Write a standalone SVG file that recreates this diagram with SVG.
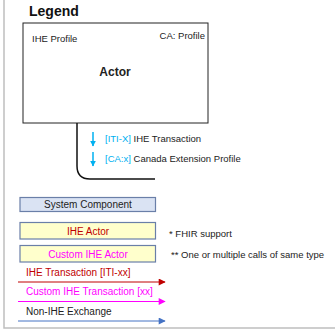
<svg xmlns="http://www.w3.org/2000/svg" width="335" height="331" viewBox="0 0 335 331">
<defs>
<style>
text{font-family:"Liberation Sans",Arial,sans-serif;}
.s{font-size:9.5px;fill:#222;}
.b{font-weight:bold;}
.box{stroke-width:1.2;}
</style>
<marker id="ar" viewBox="0 0 10 10" refX="9" refY="5" markerUnits="userSpaceOnUse" markerWidth="8" markerHeight="7" orient="auto"><path d="M0,0L10,5L0,10z" fill="#C00000"/></marker>
<marker id="am" viewBox="0 0 10 10" refX="9" refY="5" markerUnits="userSpaceOnUse" markerWidth="8" markerHeight="7" orient="auto"><path d="M0,0L10,5L0,10z" fill="#FF00FF"/></marker>
<marker id="ab" viewBox="0 0 10 10" refX="9" refY="5" markerUnits="userSpaceOnUse" markerWidth="8" markerHeight="7" orient="auto"><path d="M0,0L10,5L0,10z" fill="#4472C4"/></marker>
<marker id="ac" viewBox="0 0 10 10" refX="9" refY="5" markerUnits="userSpaceOnUse" markerWidth="6" markerHeight="6" orient="auto"><path d="M0,0L10,5L0,10z" fill="#00B0F0"/></marker>
</defs>
<rect width="335" height="331" fill="#fff"/>
<path d="M4,0V328H335" fill="none" stroke="#bfbfbf" stroke-width="1.5"/>
<text x="29" y="16" class="b" font-size="14" fill="#111">Legend</text>
<g id="actor">
<rect x="23" y="23" width="185" height="100" fill="#fff" stroke="#222" stroke-width="1"/>
<text x="32" y="42" class="s">IHE Profile</text>
<text x="205" y="39" class="s" text-anchor="end">CA: Profile</text>
<text x="115" y="76" class="b" font-size="12" fill="#222" text-anchor="middle">Actor</text>
</g>
<g id="connectors">
<path d="M77,123V166Q77,179 90,179H155" fill="none" stroke="#111" stroke-width="1.5"/>
<line x1="93" y1="132" x2="93" y2="146" stroke="#00B0F0" stroke-width="1.5" marker-end="url(#ac)"/>
<line x1="93" y1="152" x2="93" y2="166" stroke="#00B0F0" stroke-width="1.5" marker-end="url(#ac)"/>
<line x1="18" y1="282" x2="165" y2="282" stroke="#C00000" stroke-width="1" marker-end="url(#ar)"/>
<line x1="18" y1="301.5" x2="165" y2="301.5" stroke="#FF00FF" stroke-width="1" marker-end="url(#am)"/>
<line x1="18" y1="321" x2="165" y2="321" stroke="#4472C4" stroke-width="1" marker-end="url(#ab)"/>
</g>
<text x="105" y="142" class="s"><tspan fill="#00B0F0">[ITI-X]</tspan> IHE Transaction</text>
<text x="105" y="162" class="s"><tspan fill="#00B0F0">[CA:x]</tspan> Canada Extension Profile</text>
<g id="system-component">
<rect x="20" y="197.5" width="135.5" height="14" fill="#DAE3F3" stroke="#6A7FA8" class="box"/>
<text x="88" y="208" font-size="10" fill="#222" text-anchor="middle">System Component</text>
</g>
<g id="ihe-actor">
<rect x="20" y="222.5" width="135.5" height="16.5" fill="#FFFFCC" stroke="#6A7FA8" class="box"/>
<text x="88" y="234.5" font-size="10" fill="#C00000" text-anchor="middle">IHE Actor</text>
</g>
<g id="custom-ihe-actor">
<rect x="20" y="245.5" width="135.5" height="16.5" fill="#FFFFCC" stroke="#6A7FA8" class="box"/>
<text x="88" y="257.5" font-size="10" fill="#FF00FF" text-anchor="middle">Custom IHE Actor</text>
</g>
<text x="26" y="276" font-size="10" fill="#C00000">IHE Transaction [ITI-xx]</text>
<text x="26" y="295" font-size="10" fill="#FF00FF">Custom IHE Transaction [xx]</text>
<text x="26" y="315" font-size="10" fill="#222">Non-IHE Exchange</text>
<text x="169" y="237" font-size="9.5" fill="#222">* FHIR support</text>
<text x="171" y="258" font-size="9.5" fill="#222">** One or multiple calls of same type</text>
</svg>
